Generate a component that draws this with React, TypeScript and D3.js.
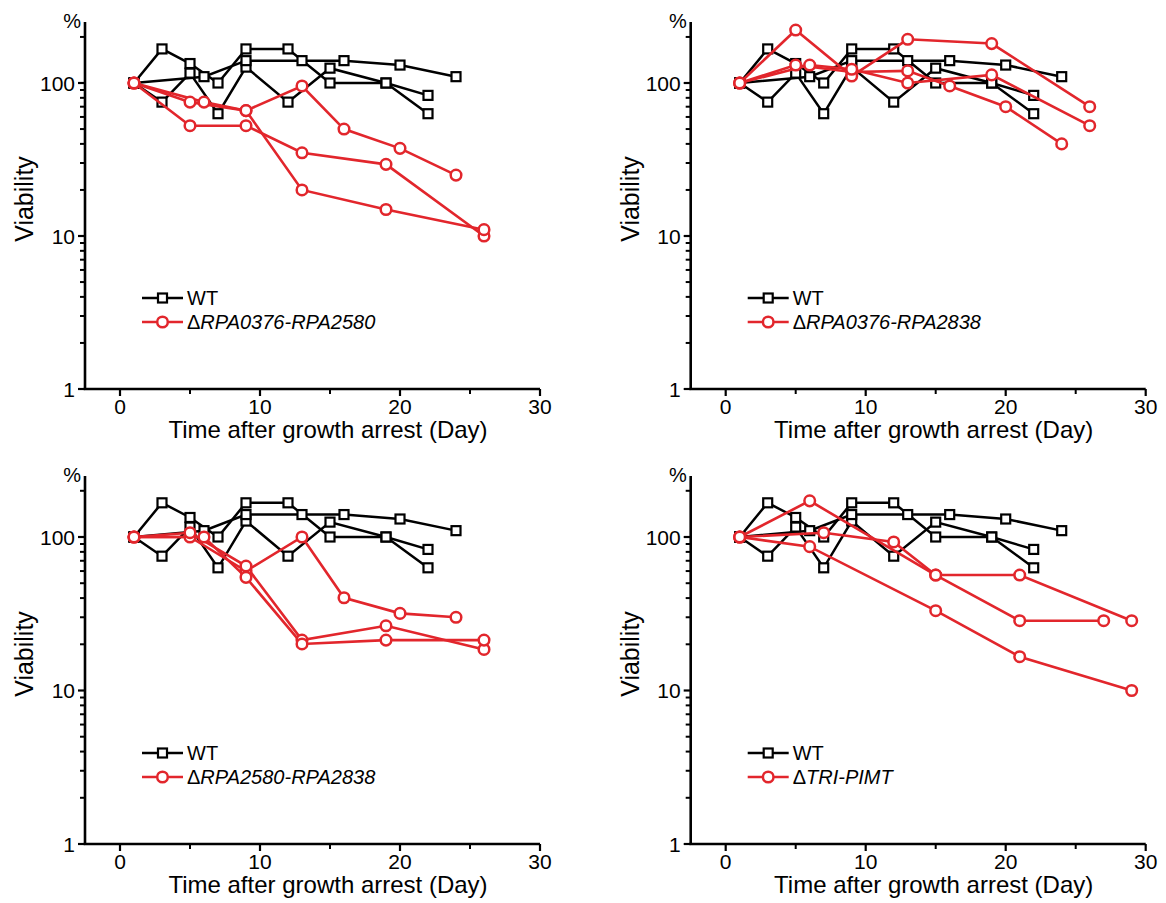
import React from "react";
import * as d3 from "d3";

// ---- data ----
const wtDays: number[][] = [
  [1, 3, 5, 7, 9, 12, 15, 19, 22],
  [1, 3, 5, 7, 9, 12, 15, 19, 22],
  [1, 6, 9, 13, 16, 20, 24],
];
const wtValues: number[][] = [
  [100, 167, 134, 100, 167, 167, 100, 100, 63],
  [100, 75, 116, 63, 127, 75, 125, 100, 83],
  [100, 110, 140, 140, 140, 131, 110],
];

const mutantLabels = ["RPA0376-RPA2580", "RPA0376-RPA2838", "RPA2580-RPA2838", "TRI-PIMT"];

const mutDays: number[][][] = [
  [[1, 5, 9, 13, 16, 20, 24], [1, 5, 9, 13, 19, 26], [1, 6, 9, 13, 19, 26]],
  [[1, 5, 9, 13, 16, 20, 24], [1, 5, 9, 13, 19, 26], [1, 6, 9, 13, 19, 26]],
  [[1, 5, 9, 13, 16, 20, 24], [1, 5, 9, 13, 19, 26], [1, 6, 9, 13, 19, 26]],
  [[1, 6, 15, 21, 27], [1, 7, 12, 15, 21, 29], [1, 6, 15, 21, 29]],
];
const mutValues: number[][][] = [
  [[100, 75, 66, 95.6, 50, 37.4, 25], [100, 52.6, 52.6, 35, 29.4, 10], [100, 75, 66, 20, 14.9, 11]],
  [[100, 131, 118, 120, 95.6, 70, 40], [100, 222, 111, 193, 181, 70], [100, 131, 123, 100, 113, 52.6]],
  [[100, 100, 60, 100, 40.2, 31.8, 30], [100, 106.6, 64.7, 21.3, 26.4, 18.5], [100, 100, 54.6, 20.1, 21.3, 21.3]],
  [[100, 172, 56.5, 28.5, 28.5], [100, 106.6, 92.8, 56.5, 56.5, 28.5], [100, 86.5, 33.1, 16.6, 10]],
];

const xMajorTicks = [0, 10, 20, 30];
const xMinorTicks = [5, 15, 25];
const yMajorTicks = [1, 10, 100];
const yMinorTicks = [2, 3, 4, 5, 6, 7, 8, 9, 20, 30, 40, 50, 60, 70, 80, 90, 200];

const RED = "#e2262c";
const FONT = "'Liberation Sans', Arial, Helvetica, sans-serif";

type PanelProps = { idx: number; axisX: number; axisBottom: number; decade: number };

function Panel({ idx, axisX, axisBottom, decade }: PanelProps) {
  const x = d3.scaleLinear().domain([-2.5, 30]).range([axisX, axisX + 32.5 * 14]);
  const yTopVal = 250;
  const y = d3
    .scaleLog()
    .domain([1, yTopVal])
    .range([axisBottom, axisBottom - Math.log10(yTopVal) * decade]);
  const axisTop = y(yTopVal);
  const line = d3
    .line<[number, number]>()
    .x((d) => x(d[0]))
    .y((d) => y(d[1]));

  const wtSeries = wtDays.map((ds, i) => ds.map((d, j) => [d, wtValues[i][j]] as [number, number]));
  const mSeries = mutDays[idx].map((ds, i) => ds.map((d, j) => [d, mutValues[idx][i][j]] as [number, number]));

  const sq = 9;
  const legX0 = axisX + 57;
  const legY1 = axisBottom - 91;
  const legY2 = axisBottom - 67;

  return (
    <g>
      {/* axes */}
      <line x1={axisX} x2={axisX} y1={axisTop} y2={axisBottom} stroke="#000" strokeWidth={2.6} />
      <line x1={axisX - 1.3} x2={x(30)} y1={axisBottom} y2={axisBottom} stroke="#000" strokeWidth={2.6} />
      {yMajorTicks.map((t) => (
        <g key={"ym" + t}>
          <line x1={axisX - 7} x2={axisX} y1={y(t)} y2={y(t)} stroke="#000" strokeWidth={2.2} />
          <text x={axisX - 10} y={y(t)} dy="0.36em" textAnchor="end" fontSize={21} fontFamily={FONT}>
            {t}
          </text>
        </g>
      ))}
      {yMinorTicks.map((t) => (
        <line key={"yn" + t} x1={axisX - 5} x2={axisX} y1={y(t)} y2={y(t)} stroke="#000" strokeWidth={2} />
      ))}
      {xMajorTicks.map((t) => (
        <g key={"xm" + t}>
          <line x1={x(t)} x2={x(t)} y1={axisBottom} y2={axisBottom + 7} stroke="#000" strokeWidth={2.2} />
          <text x={x(t)} y={axisBottom + 25} textAnchor="middle" fontSize={21} fontFamily={FONT}>
            {t}
          </text>
        </g>
      ))}
      {xMinorTicks.map((t) => (
        <line key={"xn" + t} x1={x(t)} x2={x(t)} y1={axisBottom} y2={axisBottom + 5} stroke="#000" strokeWidth={2} />
      ))}
      <text x={axisX - 4} y={axisTop + 6} textAnchor="end" fontSize={20} fontFamily={FONT}>
        %
      </text>
      <text
        transform={`translate(${axisX - 52},${axisBottom - 190}) rotate(-90)`}
        textAnchor="middle"
        fontSize={25}
        fontFamily={FONT}
      >
        Viability
      </text>
      <text x={axisX + 243} y={axisBottom + 49} textAnchor="middle" fontSize={24} fontFamily={FONT}>
        Time after growth arrest (Day)
      </text>

      {/* WT */}
      {wtSeries.map((s, i) => (
        <path key={"wl" + i} d={line(s) || ""} fill="none" stroke="#000" strokeWidth={2.5} />
      ))}
      {wtSeries.map((s, i) =>
        s.map((p, j) => (
          <rect
            key={"wp" + i + "-" + j}
            x={x(p[0]) - sq / 2}
            y={y(p[1]) - sq / 2}
            width={sq}
            height={sq}
            fill="#fff"
            stroke="#000"
            strokeWidth={2.2}
          />
        ))
      )}
      {/* mutant */}
      {mSeries.map((s, i) => (
        <path key={"ml" + i} d={line(s) || ""} fill="none" stroke={RED} strokeWidth={2.6} />
      ))}
      {mSeries.map((s, i) =>
        s.map((p, j) => (
          <circle key={"mp" + i + "-" + j} cx={x(p[0])} cy={y(p[1])} r={5.3} fill="#fff" stroke={RED} strokeWidth={2.5} />
        ))
      )}

      {/* legend */}
      <line x1={legX0} x2={legX0 + 41} y1={legY1} y2={legY1} stroke="#000" strokeWidth={2.5} />
      <rect x={legX0 + 20.5 - 4.5} y={legY1 - 4.5} width={9} height={9} fill="#fff" stroke="#000" strokeWidth={2.2} />
      <text x={legX0 + 45} y={legY1} dy="0.36em" fontSize={20} fontFamily={FONT}>
        WT
      </text>
      <line x1={legX0} x2={legX0 + 41} y1={legY2} y2={legY2} stroke={RED} strokeWidth={2.6} />
      <circle cx={legX0 + 20.5} cy={legY2} r={5.3} fill="#fff" stroke={RED} strokeWidth={2.5} />
      <text x={legX0 + 45} y={legY2} dy="0.36em" fontSize={20} fontFamily={FONT}>
        <tspan>Δ</tspan>
        <tspan fontStyle="italic">{mutantLabels[idx]}</tspan>
      </text>
    </g>
  );
}

export default function App() {
  return (
    <svg
      width={1166}
      height={903}
      viewBox="0 0 1166 903"
      style={{ position: "absolute", left: 0, top: 0, display: "block", background: "#fff" }}
    >
      <rect width={1166} height={903} fill="#fff" />
      <Panel idx={0} axisX={85} axisBottom={389} decade={153} />
      <Panel idx={1} axisX={690.7} axisBottom={389} decade={153} />
      <Panel idx={2} axisX={85} axisBottom={844} decade={153.5} />
      <Panel idx={3} axisX={690.7} axisBottom={844} decade={153.5} />
    </svg>
  );
}
